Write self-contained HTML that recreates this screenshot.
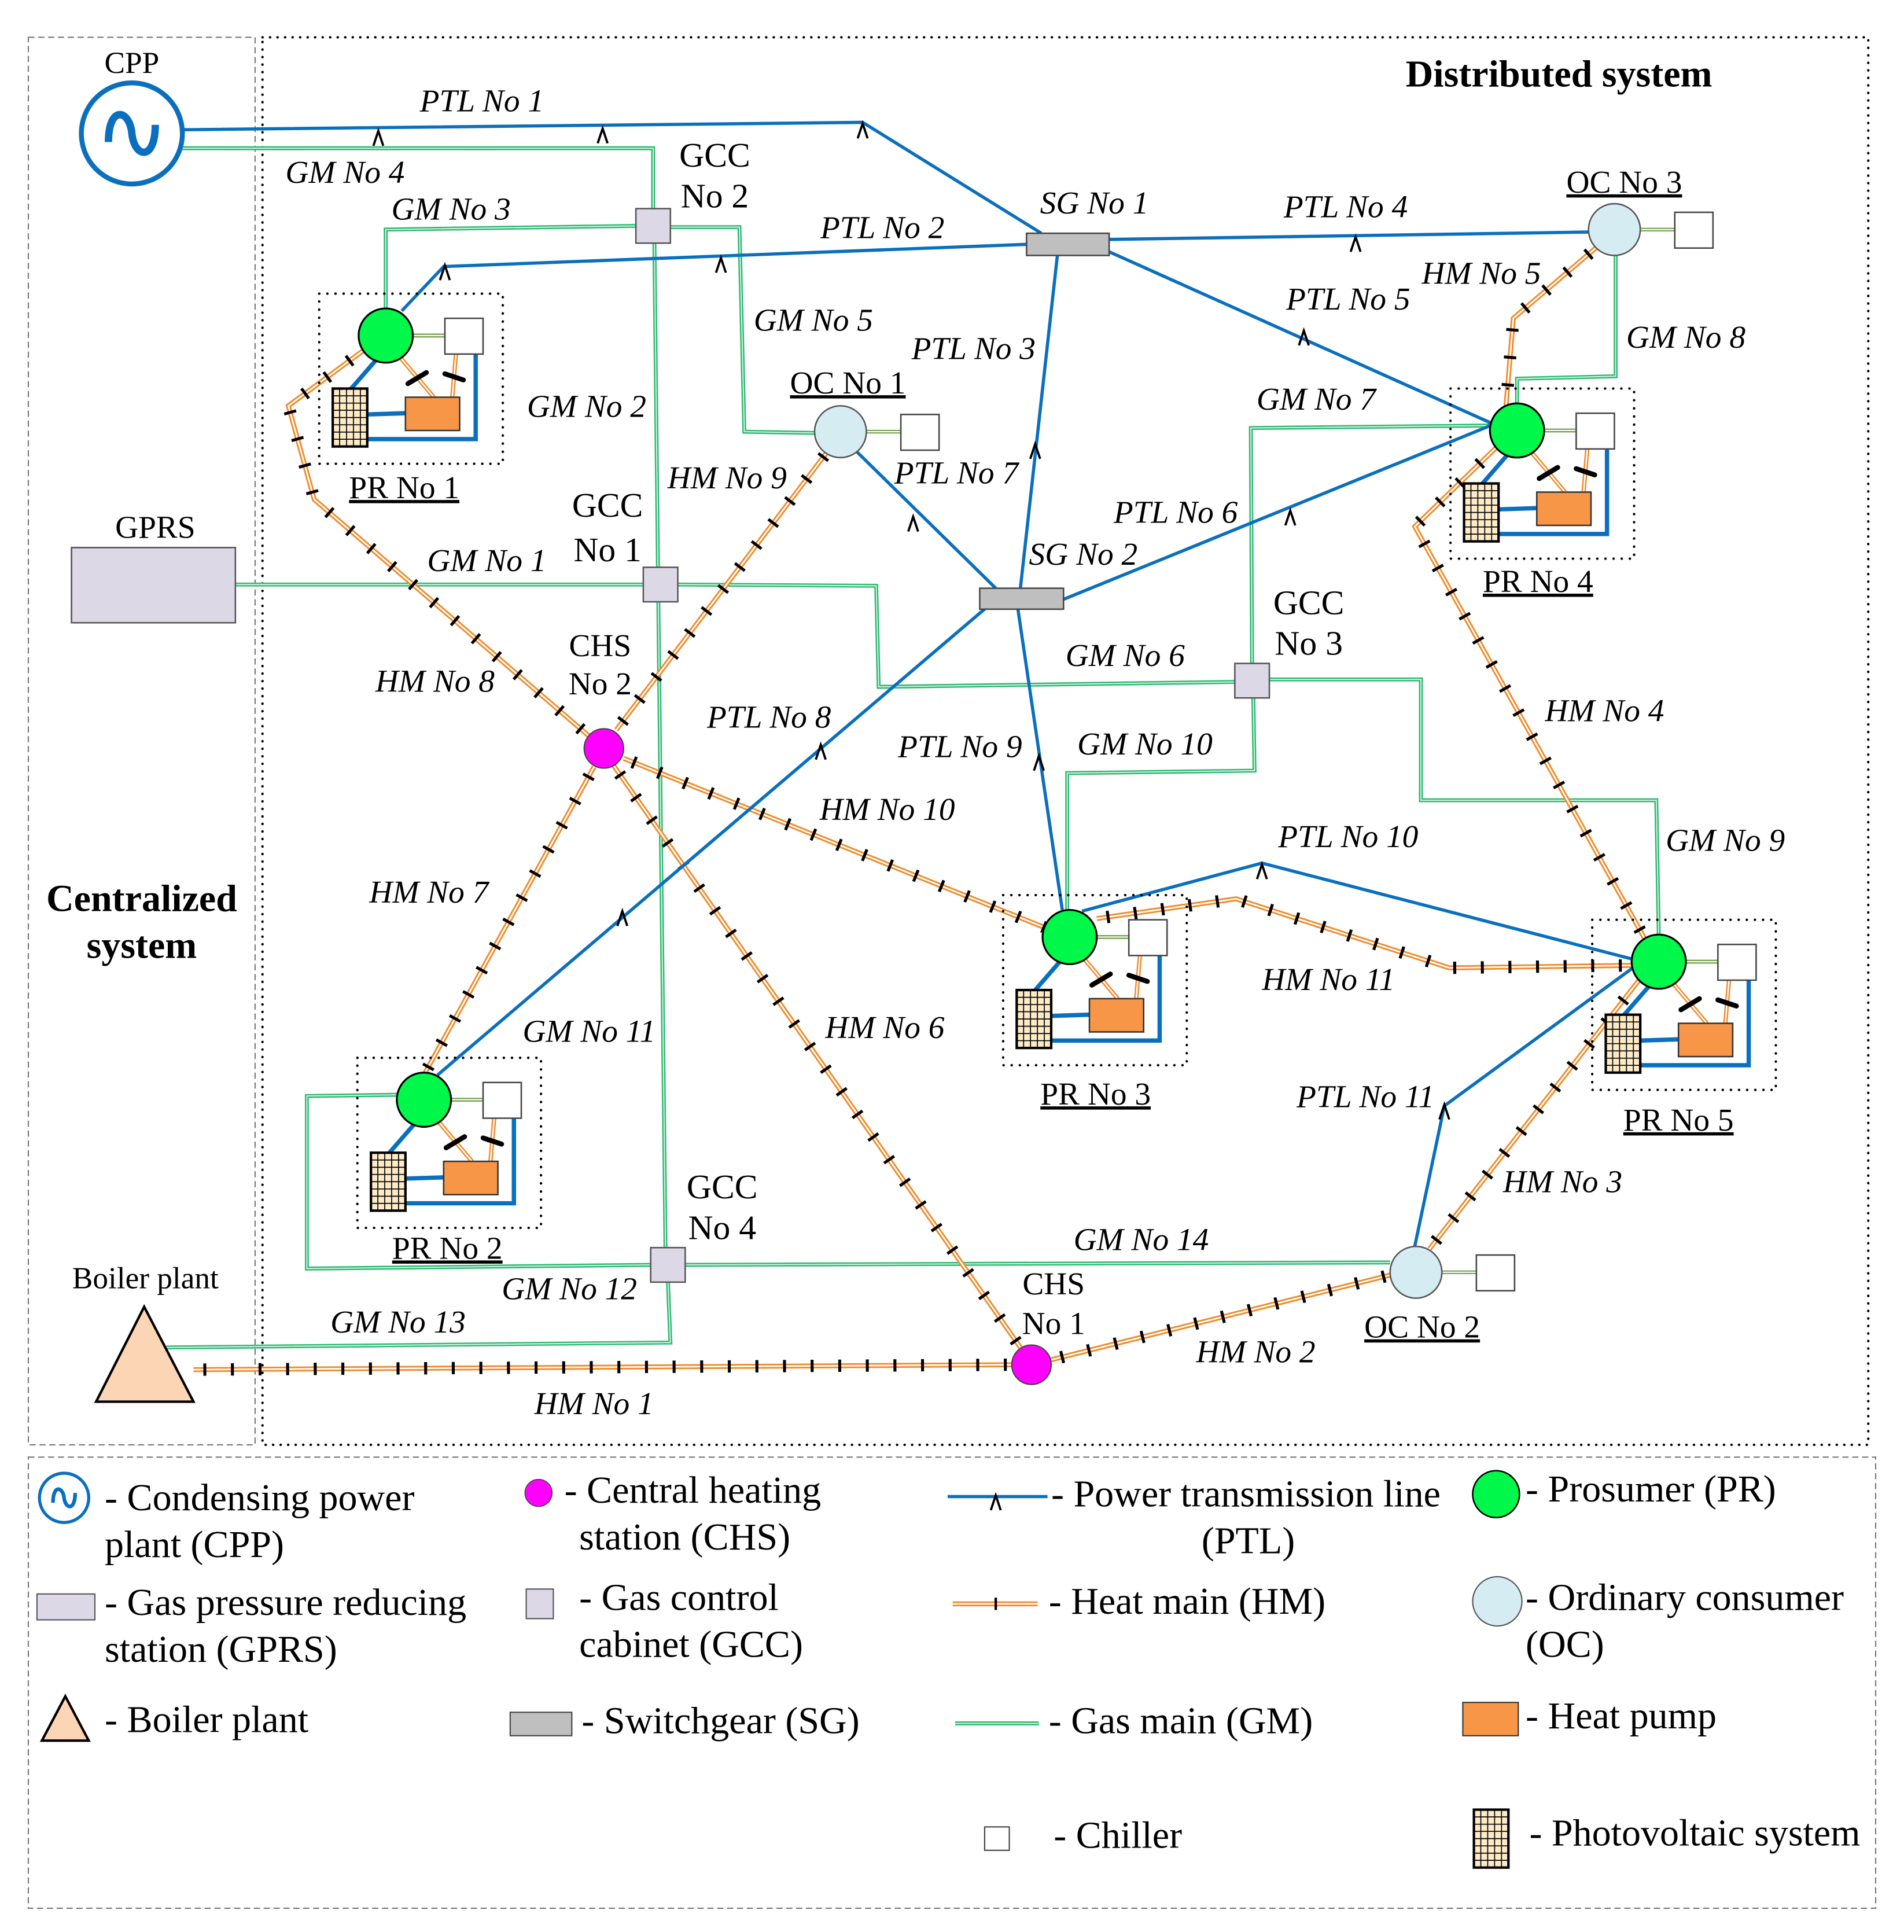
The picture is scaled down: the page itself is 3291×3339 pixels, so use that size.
<!DOCTYPE html>
<html><head><meta charset="utf-8"><style>
html,body{margin:0;padding:0;background:#fff}
svg{display:block}
.ptl{stroke:#0a6fbe;stroke-width:2.6;fill:none;stroke-linejoin:round}
.gmA{stroke:#2eb872;stroke-width:3.2;fill:none}
.gmB{stroke:#d6f7e4;stroke-width:0.9;fill:none}
.hmA{stroke:#f08a2a;stroke-width:4;fill:none}
.hmB{stroke:#fff;stroke-width:1.3;fill:none}
.hmT{stroke:#000;stroke-width:10;fill:none;stroke-dasharray:2.4 20;stroke-dashoffset:-8}
.ar{stroke:#000;stroke-width:1.8;fill:none}
text{font-family:"Liberation Serif",serif;fill:#000}
.l{font-style:italic;font-size:26px}
.n{font-size:26px}
.lg{font-size:31px}
</style></head><body>
<svg width="3291" height="3339" viewBox="0 0 1545 1567" xmlns="http://www.w3.org/2000/svg">
<defs>
<g id="ar"><path class="ar" d="M-4,6 L0,-6 L4,6"/></g>
<g id="pv">
<rect x="0" y="0" width="28" height="47" fill="#fdebc8" stroke="#000" stroke-width="2"/>
<path d="M5.6,0V47M11.2,0V47M16.8,0V47M22.4,0V47M0,5.9H28M0,11.8H28M0,17.6H28M0,23.5H28M0,29.4H28M0,35.3H28M0,41.1H28" stroke="#000" stroke-width="0.8"/>
</g>
<g id="pr">
<rect x="-54" y="-34" width="149" height="138" fill="none" stroke="#000" stroke-width="2" stroke-dasharray="0.1 6.5" stroke-linecap="round"/>
<path d="M-8,20 L-28,43 M-15,64 L16,63 M-15,84 L73,84 L73,15" stroke="#0a6fbe" stroke-width="3.5" fill="none" stroke-linecap="round"/>
<path d="M12,18 L39,50 M57,15 L54,50" stroke="#f08a2a" stroke-width="3.5" fill="none"/>
<path d="M12,18 L39,50 M57,15 L54,50" stroke="#fff" stroke-width="1.2" fill="none"/>
<path d="M18,39 L33,30 M48,31 L63,36" stroke="#000" stroke-width="4" stroke-linecap="round"/>
<path d="M22,0 L48,0" stroke="#77a050" stroke-width="3.2"/>
<path d="M22,0 L48,0" stroke="#fff" stroke-width="1"/>
<rect x="48" y="-14" width="31" height="29" fill="#fff" stroke="#444" stroke-width="1.2"/>
<rect x="16" y="50" width="44" height="27" fill="#f79646" stroke="#333" stroke-width="1.2"/>
<use href="#pv" x="-43" y="43"/>
<circle r="22" fill="#00f84a" stroke="#000" stroke-width="1.5"/>
</g>
<g id="oc">
<path d="M20,0 L49,0" stroke="#77a050" stroke-width="3"/>
<path d="M20,0 L49,0" stroke="#fff" stroke-width="1"/>
<rect x="49" y="-14" width="31" height="29" fill="#fff" stroke="#444" stroke-width="1.2"/>
<circle r="21" fill="#d5ecf3" stroke="#555" stroke-width="1.2"/>
</g>
<rect id="gcc" x="-14" y="-14" width="28" height="28" fill="#ddd8e6" stroke="#555" stroke-width="1.2"/>
<path id="h1" d="M157,1111 L821,1107"/>
<path id="h2" d="M853,1103 L1129,1034"/>
<path id="h3" d="M1160,1013 L1330,795"/>
<path id="h4" d="M1335,762 L1148,427 L1215,362"/>
<path id="h5" d="M1296,200 L1228,258 L1222,330"/>
<path id="h6" d="M498,621 L828,1093"/>
<path id="h7" d="M482,622 L345,870"/>
<path id="h8" d="M478,597 L255,405 L234,329 L295,284"/>
<path id="h9" d="M500,592 L670,368"/>
<path id="h10" d="M506,615 L847,752"/>
<path id="h11" d="M890,745 L1003,729 L1176,785 L1325,783"/>
<path id="g4" d="M148,120 L530,120 L530,169"/>
<path id="g2" d="M531,197 L540,1012"/>
<path id="g3" d="M516,183 L313,186 L313,250"/>
<path id="g5" d="M544,184 L600,184 L604,350 L661,351"/>
<path id="g1" d="M191,474 L522,474"/>
<path id="g6" d="M550,474 L711,475 L713,557 L1002,553"/>
<path id="g7" d="M1016,538 L1015,347 L1209,345"/>
<path id="g8" d="M1311,207 L1311,305 L1231,307 L1231,327"/>
<path id="g9" d="M1030,551 L1153,551 L1153,649 L1344,649 L1346,758"/>
<path id="g10" d="M1017,566 L1018,625 L866,627 L866,738"/>
<path id="g11" d="M322,888 L249,889 L249,1029 L528,1026"/>
<path id="g14" d="M556,1026 L1128,1024"/>
<path id="g13" d="M135,1093 L544,1089 L542,1040"/>
</defs>

<rect x="23" y="30" width="184" height="1142" fill="none" stroke="#777" stroke-width="1" stroke-dasharray="5 3"/>
<rect x="213" y="30" width="1303" height="1142" fill="none" stroke="#000" stroke-width="2" stroke-dasharray="0.1 6" stroke-linecap="round"/>
<rect x="23" y="1182" width="1499" height="366" fill="none" stroke="#777" stroke-width="1" stroke-dasharray="5 3"/>

<g class="gmA"><use href="#g4"/><use href="#g2"/><use href="#g3"/><use href="#g5"/><use href="#g1"/><use href="#g6"/><use href="#g7"/><use href="#g8"/><use href="#g9"/><use href="#g10"/><use href="#g11"/><use href="#g14"/><use href="#g13"/></g>
<g class="gmB"><use href="#g4"/><use href="#g2"/><use href="#g3"/><use href="#g5"/><use href="#g1"/><use href="#g6"/><use href="#g7"/><use href="#g8"/><use href="#g9"/><use href="#g10"/><use href="#g11"/><use href="#g14"/><use href="#g13"/></g>

<g class="hmA"><use href="#h1"/><use href="#h2"/><use href="#h3"/><use href="#h4"/><use href="#h5"/><use href="#h6"/><use href="#h7"/><use href="#h8"/><use href="#h9"/><use href="#h10"/><use href="#h11"/></g>
<g class="hmB"><use href="#h1"/><use href="#h2"/><use href="#h3"/><use href="#h4"/><use href="#h5"/><use href="#h6"/><use href="#h7"/><use href="#h8"/><use href="#h9"/><use href="#h10"/><use href="#h11"/></g>
<g class="hmT"><use href="#h1"/><use href="#h2"/><use href="#h3"/><use href="#h4"/><use href="#h5"/><use href="#h6"/><use href="#h7"/><use href="#h8"/><use href="#h9"/><use href="#h10"/><use href="#h11"/></g>

<path class="ptl" d="M148,105 L700,99 L845,189"/>
<path class="ptl" d="M833,198 L360,216 L326,252"/>
<path class="ptl" d="M858,207 L828,477"/>
<path class="ptl" d="M900,194 L1289,188"/>
<path class="ptl" d="M900,204 L1210,343"/>
<path class="ptl" d="M863,486 L1212,344"/>
<path class="ptl" d="M695,366 L808,477"/>
<path class="ptl" d="M800,493 L355,872"/>
<path class="ptl" d="M826,494 L862,738"/>
<path class="ptl" d="M878,739 L1024,700 L1325,778"/>
<path class="ptl" d="M1325,785 L1172,897 L1148,1011"/>
<use href="#ar" x="307" y="112"/><use href="#ar" x="489" y="110"/><use href="#ar" x="700" y="106"/>
<use href="#ar" x="585" y="215"/><use href="#ar" x="361" y="221"/>
<use href="#ar" x="840" y="366"/><use href="#ar" x="1100" y="198"/><use href="#ar" x="1058" y="274"/>
<use href="#ar" x="1047" y="420"/><use href="#ar" x="741" y="425"/><use href="#ar" x="666" y="610"/>
<use href="#ar" x="505" y="745"/><use href="#ar" x="843" y="619"/><use href="#ar" x="1024" y="707"/>
<use href="#ar" x="1172" y="902"/>

<circle cx="107" cy="108" r="41" fill="#fff" stroke="#0a6fbe" stroke-width="4"/>
<path d="M88,115 C88,85 105,88 107,108 C109,128 126,131 126,101" fill="none" stroke="#0a6fbe" stroke-width="6"/>
<rect x="58" y="444" width="133" height="61" fill="#ddd8e6" stroke="#555" stroke-width="1.2"/>
<polygon points="78,1137 117,1060 157,1137" fill="#fcd5b4" stroke="#000" stroke-width="2"/>
<use href="#gcc" x="530" y="183"/><use href="#gcc" x="536" y="474"/><use href="#gcc" x="1016" y="552"/><use href="#gcc" x="542" y="1026"/>
<rect x="833" y="189" width="67" height="18" fill="#bfbfbf" stroke="#444" stroke-width="1.2"/>
<rect x="795" y="477" width="68" height="17" fill="#bfbfbf" stroke="#444" stroke-width="1.2"/>
<circle cx="490" cy="607" r="16" fill="#ff00ff" stroke="#444" stroke-width="1"/>
<circle cx="837" cy="1107" r="16" fill="#ff00ff" stroke="#444" stroke-width="1"/>
<use href="#oc" x="682" y="350"/><use href="#oc" x="1149" y="1032"/><use href="#oc" x="1310" y="186"/>
<use href="#pr" x="313" y="272"/><use href="#pr" x="344" y="892"/><use href="#pr" x="868" y="760"/><use href="#pr" x="1231" y="349"/><use href="#pr" x="1346" y="780"/>

<g class="n" text-anchor="middle">
<text x="107" y="59" font-size="25">CPP</text>
<text x="126" y="436">GPRS</text>
<text x="118" y="1045" font-size="25">Boiler plant</text>
<text x="580" y="135" font-size="28">GCC</text><text x="580" y="168" font-size="28">No 2</text>
<text x="493" y="419" font-size="28">GCC</text><text x="493" y="455" font-size="28">No 1</text>
<text x="1062" y="498" font-size="28">GCC</text><text x="1062" y="531" font-size="28">No 3</text>
<text x="586" y="972" font-size="28">GCC</text><text x="586" y="1005" font-size="28">No 4</text>
<text x="487" y="532">CHS</text><text x="487" y="563">No 2</text>
<text x="855" y="1050">CHS</text><text x="855" y="1082">No 1</text>
<text x="328" y="404" text-decoration="underline">PR No 1</text>
<text x="363" y="1021" text-decoration="underline">PR No 2</text>
<text x="889" y="896" text-decoration="underline">PR No 3</text>
<text x="1248" y="480" text-decoration="underline">PR No 4</text>
<text x="1362" y="917" text-decoration="underline">PR No 5</text>
<text x="688" y="319" text-decoration="underline">OC No 1</text>
<text x="1154" y="1085" text-decoration="underline">OC No 2</text>
<text x="1318" y="156" text-decoration="underline">OC No 3</text>
<text x="1265" y="70" font-weight="bold" font-size="31">Distributed system</text>
<text x="115" y="739" font-weight="bold" font-size="31">Centralized</text>
<text x="115" y="777" font-weight="bold" font-size="31">system</text>
</g>
<g class="l" text-anchor="middle">
<text x="391" y="90">PTL No 1</text><text x="280" y="148">GM No 4</text><text x="366" y="178">GM No 3</text>
<text x="716" y="193">PTL No 2</text><text x="888" y="173">SG No 1</text><text x="1092" y="176">PTL No 4</text>
<text x="1202" y="230">HM No 5</text><text x="1094" y="251">PTL No 5</text><text x="1368" y="282">GM No 8</text>
<text x="660" y="268">GM No 5</text><text x="790" y="291">PTL No 3</text><text x="476" y="338">GM No 2</text>
<text x="1068" y="332">GM No 7</text><text x="590" y="396">HM No 9</text><text x="776" y="392">PTL No 7</text>
<text x="954" y="424">PTL No 6</text><text x="395" y="463">GM No 1</text><text x="879" y="458">SG No 2</text>
<text x="353" y="561">HM No 8</text><text x="913" y="540">GM No 6</text><text x="624" y="590">PTL No 8</text>
<text x="1302" y="585">HM No 4</text><text x="779" y="614">PTL No 9</text><text x="929" y="612">GM No 10</text>
<text x="720" y="665">HM No 10</text><text x="1094" y="687">PTL No 10</text><text x="1400" y="690">GM No 9</text>
<text x="348" y="732">HM No 7</text><text x="1078" y="803">HM No 11</text><text x="718" y="842">HM No 6</text>
<text x="478" y="845">GM No 11</text><text x="1108" y="898">PTL No 11</text><text x="1268" y="967">HM No 3</text>
<text x="926" y="1014">GM No 14</text><text x="462" y="1054">GM No 12</text><text x="323" y="1081">GM No 13</text>
<text x="1019" y="1105">HM No 2</text><text x="482" y="1147">HM No 1</text>
</g>

<circle cx="52" cy="1215" r="20" fill="#fff" stroke="#0a6fbe" stroke-width="2.5"/>
<path d="M43,1219 C43,1204 51,1206 52,1215 C53,1224 61,1226 61,1211" fill="none" stroke="#0a6fbe" stroke-width="3"/>
<rect x="30" y="1293" width="47" height="21" fill="#ddd8e6" stroke="#555"/>
<polygon points="34,1412 53,1376 72,1412" fill="#fcd5b4" stroke="#000" stroke-width="2"/>
<circle cx="437" cy="1211" r="11" fill="#ff00ff" stroke="#444" stroke-width="0.8"/>
<rect x="427" y="1289" width="22" height="24" fill="#ddd8e6" stroke="#555"/>
<rect x="414" y="1389" width="50" height="19" fill="#bfbfbf" stroke="#444"/>
<path class="ptl" d="M769,1214 L850,1214"/><use href="#ar" x="808" y="1219"/>
<path class="hmA" d="M773,1301 L842,1301"/><path class="hmB" d="M773,1301 L842,1301"/><path d="M808,1296 L808,1306" stroke="#000" stroke-width="2"/>
<path class="gmA" d="M775,1398 L843,1398"/><path class="gmB" d="M775,1398 L843,1398"/>
<rect x="799" y="1482" width="20" height="19" fill="#fff" stroke="#444"/>
<circle cx="1214" cy="1212" r="19" fill="#00f84a" stroke="#000" stroke-width="1.2"/>
<circle cx="1215" cy="1299" r="20" fill="#d5ecf3" stroke="#555"/>
<rect x="1187" y="1381" width="45" height="27" fill="#f79646" stroke="#333"/>
<use href="#pv" x="1196" y="1468"/>
<g class="lg">
<text x="85" y="1225">- Condensing power</text><text x="85" y="1263">plant (CPP)</text>
<text x="85" y="1310">- Gas pressure reducing</text><text x="85" y="1348">station (GPRS)</text>
<text x="85" y="1405">- Boiler plant</text>
<text x="458" y="1219">- Central heating</text><text x="470" y="1257">station (CHS)</text>
<text x="470" y="1306">- Gas control</text><text x="470" y="1344">cabinet (GCC)</text>
<text x="472" y="1406">- Switchgear (SG)</text>
<text x="853" y="1222">- Power transmission line</text><text x="975" y="1260">(PTL)</text>
<text x="851" y="1309">- Heat main (HM)</text>
<text x="851" y="1406">- Gas main (GM)</text>
<text x="855" y="1499">- Chiller</text>
<text x="1238" y="1218">- Prosumer (PR)</text>
<text x="1238" y="1306">- Ordinary consumer</text><text x="1238" y="1344">(OC)</text>
<text x="1238" y="1402">- Heat pump</text>
<text x="1241" y="1497">- Photovoltaic system</text>
</g>
</svg>
</body></html>
